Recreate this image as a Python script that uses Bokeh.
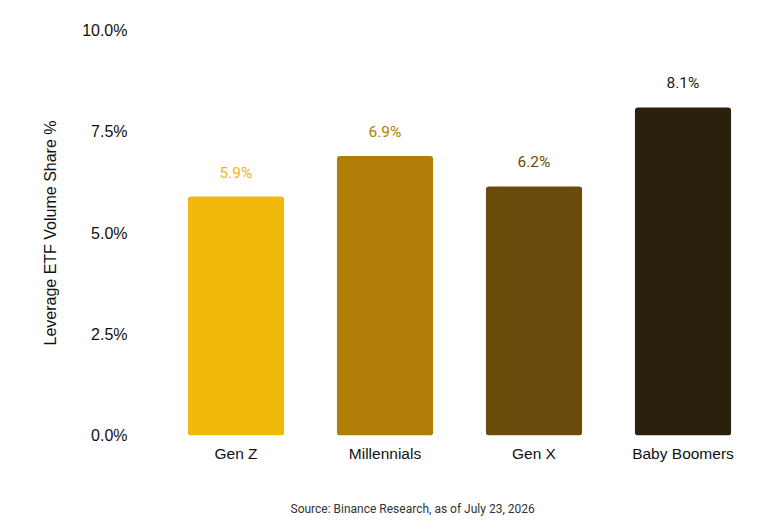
from bokeh.plotting import figure
from bokeh.models import ColumnDataSource, Title, FixedTicker, CustomJSTickFormatter
from bokeh.core.properties import value
from bokeh.embed import file_html
from bokeh.resources import INLINE

categories = ["Gen Z", "Millennials", "Gen X", "Baby Boomers"]
shares = [5.9, 6.9, 6.15, 8.1]
share_labels = ["5.9%", "6.9%", "6.2%", "8.1%"]
colors = ["#F0B90B", "#B07E07", "#6B4B0C", "#2A200C"]
y_ticks = [0, 2.5, 5, 7.5, 10]
source_note = "Source: Binance Research, as of July 23, 2026"

src = ColumnDataSource(dict(cat=categories, val=shares, lab=share_labels, col=colors))

p = figure(x_range=categories, y_range=(0, 10), width=776, height=517,
           output_backend="svg", toolbar_location=None,
           min_border_left=161, min_border_right=19, min_border_top=30, min_border_bottom=82)
p.outline_line_color = None
p.background_fill_color = "white"
p.border_fill_color = "white"

p.vbar(x="cat", top="val", width=0.645, source=src, fill_color="col", line_color=None,
       border_radius=3)
p.text(x="cat", y="val", text="lab", source=src, text_color="col",
       text_align="center", text_baseline="bottom", y_offset=-15,
       text_font=value("Roboto"), text_font_size="15.5px")

p.xgrid.grid_line_color = None
p.ygrid.grid_line_color = None

ya = p.yaxis[0]
ya.ticker = FixedTicker(ticks=y_ticks)
ya.formatter = CustomJSTickFormatter(code="return tick.toFixed(1) + '%';")
ya.axis_line_color = None
ya.major_tick_line_color = None
ya.minor_tick_line_color = None
ya.major_tick_out = 0
ya.major_label_standoff = 34
ya.major_label_text_font = "Liberation Sans"
ya.major_label_text_font_size = "16px"
ya.major_label_text_color = "#111111"
ya.axis_label = "Leverage ETF Volume Share %"
ya.axis_label_text_font = "Liberation Sans"
ya.axis_label_text_font_size = "16px"
ya.axis_label_text_font_style = "normal"
ya.axis_label_text_color = "#111111"
ya.axis_label_standoff = 20

xa = p.xaxis[0]
xa.axis_line_color = None
xa.major_tick_line_color = None
xa.minor_tick_line_color = None
xa.major_tick_out = 0
xa.major_label_standoff = 9
xa.major_label_text_font = "Liberation Sans"
xa.major_label_text_font_size = "15.5px"
xa.major_label_text_color = "#111111"

spacer = Title(text=" ", text_font_size="1px", standoff=32)
p.add_layout(spacer, "below")
src_title = Title(text=source_note, align="left", offset=129, text_font="Roboto",
                  text_font_size="12px", text_font_style="normal",
                  text_color="#333333", standoff=0)
p.add_layout(src_title, "below")

open("out.html", "w").write(file_html(p, INLINE))
